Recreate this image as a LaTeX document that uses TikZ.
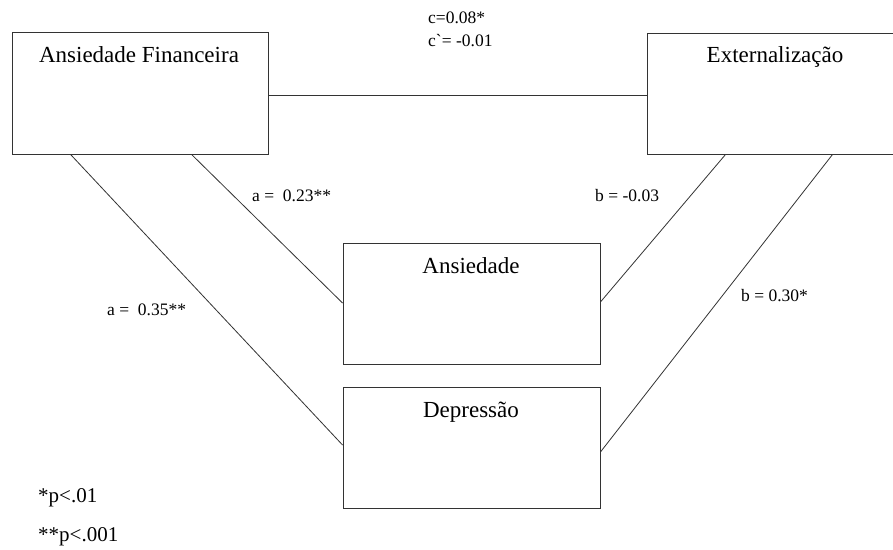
\documentclass[tikz,border=0pt]{standalone}
\usepackage{fontspec}
\setmainfont{Liberation Serif}
\usetikzlibrary{calc}
\begin{document}
\begin{tikzpicture}[x=1pt,y=-1pt,
  box/.style={draw=black!80,line width=0.9pt,rectangle,inner sep=0pt,minimum width=256pt,minimum height=121pt},
  boxlabel/.style={anchor=base,font=\fontsize{23}{27}\selectfont,inner sep=0pt},
  link/.style={draw=black!80,line width=0.8pt},
  coef/.style={anchor=west,inner sep=0pt,font=\fontsize{17.5}{21}\selectfont},
  note/.style={anchor=west,inner sep=0pt,font=\fontsize{21}{25}\selectfont}]
\useasboundingbox (0,0) rectangle (893,549);
\clip (0,0) rectangle (893,549);
\fill[white] (0,0) rectangle (893,549);
% boxes
\node[box,minimum height=122pt] (af) at (140,93) {};
\node[box] (ext) at (775,93.5) {};
\node[box,minimum width=257pt] (ans) at (471.5,303.5) {};
\node[box,minimum width=257pt] (dep) at (471.5,447.5) {};
% box texts
\node[boxlabel] (aft) at (139,62) {Ansiedade Financeira};
\node[boxlabel] (extt) at (775,62) {Externalização};
\node[boxlabel] (anst) at (471,273) {Ansiedade};
\node[boxlabel] (dept) at (471,417) {Depressão};
% connectors
\draw[link] ($(af.east)+(0,2)$) -- ($(ext.west)+(0,1.5)$);
\draw[link] ($(af.south west)+(59,0)$) -- ($(dep.west)+(0,-2.5)$);
\draw[link] ($(af.south west)+(180,0)$) -- ($(ans.west)+(0,-0.5)$);
\draw[link] ($(ext.south west)+(79,0)$) -- ($(ans.east)+(0,-1.5)$);
\draw[link] ($(ext.south west)+(186,0)$) -- ($(dep.east)+(0,4.5)$);
% coefficients
\node[coef] (c1) at (428,18) {c=0.08*};
\node[coef] (c2) at (428,41) {c\textasciigrave= -0.01};
\node[coef] (a1) at (252,196) {a =\ \ 0.23**};
\node[coef] (a2) at (107,310) {a =\ \ 0.35**};
\node[coef] (b1) at (595,196) {b = -0.03};
\node[coef] (b2) at (741,296) {b = 0.30*};
% notes
\node[note] (n1) at (38,498) {*p<.01};
\node[note] (n2) at (38,537) {**p<.001};
\end{tikzpicture}
\end{document}
